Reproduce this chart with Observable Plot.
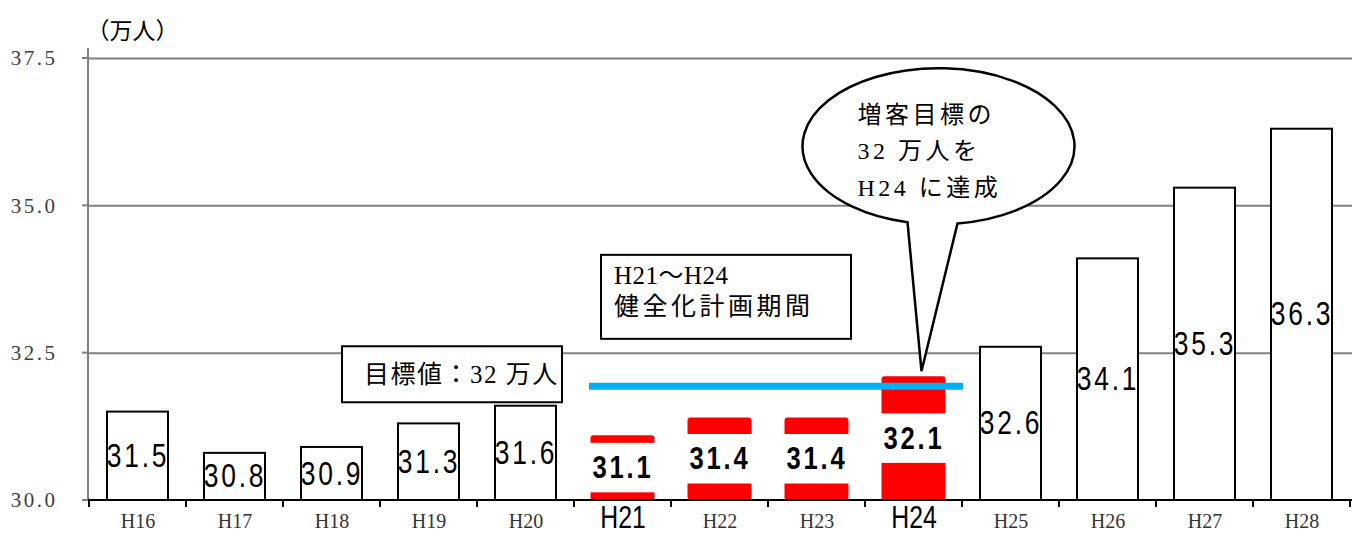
<!DOCTYPE html>
<html><head><meta charset="utf-8">
<script src="https://cdn.jsdelivr.net/npm/d3@7"></script>
<script src="https://cdn.jsdelivr.net/npm/@observablehq/plot@0.6"></script>
<style>
body{margin:0;background:#fff}
svg{display:block}
g[font-size="33"] text, g[font-size="32"] text{letter-spacing:3.5px}
g[font-size="21"] text{letter-spacing:2.5px}
</style>
</head><body><div id="chart"></div>
<script>
// ---- data ----
const years = ["H16","H17","H18","H19","H20","H21","H22","H23","H24","H25","H26","H27","H28"];
const values = [31.5,30.8,30.9,31.3,31.6,31.1,31.4,31.4,32.1,32.6,34.1,35.3,36.3];
const highlighted = ["H21","H22","H23","H24"];
const emphasizedTicks = ["H21","H24"];
const yTicks = [30,32.5,35,37.5];
const targetLevel = 31.93;       // blue target line as drawn
const unitLabel = "（万人）";
const targetLabel = "目標値：32 万人";
const periodLabel = ["H21～H24","健全化計画期間"];
const bubbleLabel = ["増客目標の","32 万人を","H24 に達成"];

const rows = years.map((year, i) => ({year, value: values[i], hi: highlighted.includes(year)}));
const base = yTicks[0];
const mid = d => (base + d.value) / 2;

const sans = "'Liberation Sans',Arial,sans-serif";
const serif = "'Liberation Serif','DejaVu Serif',serif";
const jp = "'Liberation Serif','Noto Sans CJK JP',sans-serif";

function chrome(index, scales, values, dimensions) {
  const {x, y} = scales;
  const bw = x.bandwidth(), step = x.step();
  const {width, marginLeft, marginRight} = dimensions;
  const g = d3.create("svg:g");
  for (const t of yTicks) {
    g.append("line").attr("x1", marginLeft - 6).attr("x2", marginLeft)
      .attr("y1", y(t)).attr("y2", y(t)).attr("stroke", "#808080").attr("stroke-width", 2);
  }
  g.append("line").attr("x1", marginLeft).attr("x2", marginLeft)
    .attr("y1", y(yTicks[yTicks.length-1]) - 10).attr("y2", y(base))
    .attr("stroke", "#808080").attr("stroke-width", 2);
  g.append("line").attr("x1", marginLeft).attr("x2", width - marginRight)
    .attr("y1", y(base)).attr("y2", y(base)).attr("stroke", "#000").attr("stroke-width", 2);
  const off = (step - bw) / 2;
  const bounds = years.map(d => x(d) - off).concat([x(years[years.length-1]) + bw + off]);
  for (const b of bounds) {
    g.append("line").attr("x1", b).attr("x2", b).attr("y1", y(base)).attr("y2", y(base) + 7)
      .attr("stroke", "#000").attr("stroke-width", 2);
  }
  return g.node();
}

function targetLine(index, scales) {
  const {x, y} = scales;
  const bw = x.bandwidth();
  const g = d3.create("svg:g");
  g.append("line")
    .attr("x1", x(highlighted[0]) - 3).attr("x2", x(highlighted[highlighted.length-1]) + bw + 19)
    .attr("y1", y(targetLevel)).attr("y2", y(targetLevel))
    .attr("stroke", "#00B0F0").attr("stroke-width", 7);
  return g.node();
}

function annotations(index, scales) {
  const {x, y} = scales;
  const bw = x.bandwidth();
  const g = d3.create("svg:g").attr("text-anchor", "start");
  const b1x = x("H19") - 56, b1y = y(targetLevel) - 40;
  g.append("rect").attr("x", b1x).attr("y", b1y).attr("width", 220).attr("height", 56)
    .attr("fill", "#fff").attr("stroke", "#000").attr("stroke-width", 2);
  g.append("text").attr("x", b1x + 22).attr("y", b1y + 28).attr("dy", "0.35em")
    .attr("font-family", jp).attr("font-size", 25).attr("letter-spacing", 1.5)
    .attr("fill", "#000").text(targetLabel);
  const b2x = x("H21") + 9, b2y = y(34.16);
  g.append("rect").attr("x", b2x).attr("y", b2y).attr("width", 250).attr("height", 84)
    .attr("fill", "#fff").attr("stroke", "#000").attr("stroke-width", 2);
  periodLabel.forEach((t, i) => {
    g.append("text").attr("x", b2x + 13).attr("y", b2y + 20 + i * 31).attr("dy", "0.35em")
      .attr("font-family", jp).attr("font-size", 25).attr("letter-spacing", i ? 3.5 : 0.5)
      .attr("fill", "#000").text(t);
  });
  const h24 = rows.find(d => d.year === "H24");
  const tx = x("H24") + bw / 2 + 8, ty = y(h24.value) - 5;
  const cx = tx + 17, cy = ty - 225, rx = 136, ry = 78;
  const ex = dx => cy + ry * Math.sqrt(1 - (dx / rx) ** 2);
  const lx = cx - 31, rxp = cx + 19;
  const path = `M${lx},${ex(-31)} A${rx},${ry} 0 1 1 ${rxp},${ex(19)} L${tx},${ty} Z`;
  g.append("path").attr("d", path).attr("fill", "#fff").attr("stroke", "#000")
    .attr("stroke-width", 2.5).attr("stroke-linejoin", "miter");
  bubbleLabel.forEach((t, i) => {
    g.append("text").attr("x", cx - 81).attr("y", cy - 32 + i * 36.5).attr("dy", "0.35em")
      .attr("font-family", jp).attr("font-size", 24).attr("letter-spacing", 3.5)
      .attr("fill", "#000").text(t);
  });
  return g.node();
}

const chart = Plot.plot({
  width: 1359,
  height: 543,
  marginLeft: 88,
  marginRight: 7,
  marginTop: 58,
  marginBottom: 43,
  style: {fontFamily: serif, fontSize: "20px", color: "#404040", background: "#fff", overflow: "visible"},
  x: {domain: years, axis: null, paddingInner: 0.37, paddingOuter: 0.185},
  y: {domain: [base, yTicks[yTicks.length-1]], axis: null},
  marks: [
    Plot.ruleY(yTicks.slice(1), {stroke: "#808080", strokeWidth: 2, strokeOpacity: 1}),
    Plot.barY(rows.filter(d => !d.hi), {x: "year", y1: base, y2: "value", fill: "#fff", stroke: "#000", strokeWidth: 2}),
    Plot.barY(rows.filter(d => d.hi), {x: "year", y1: base, y2: "value", fill: "#FF0000", rx: 3, insetLeft: -1.5, insetRight: -1.5}),
    Plot.barY(rows.filter(d => d.hi), {x: "year", y1: d => mid(d) - 0.42, y2: d => mid(d) + 0.42, fill: "#fff", insetLeft: -3, insetRight: -3}),
    chrome,
    targetLine,
    Plot.text(yTicks, {y: d => d, frameAnchor: "left", dx: -31, textAnchor: "end",
      text: d => d.toFixed(1), fill: "#404040", fontFamily: serif, fontSize: 21}),
    Plot.text(rows.filter(d => !d.hi), {x: "year", y: mid, text: d => d.value.toFixed(1), fill: "#000",
      fontFamily: sans, fontSize: 33}),
    Plot.text(rows.filter(d => d.hi), {x: "year", y: mid, text: d => d.value.toFixed(1), fill: "#000",
      fontFamily: sans, fontSize: 32, fontWeight: "bold"}),
    annotations,
    Plot.text(years.filter(d => !emphasizedTicks.includes(d)), {x: d => d, frameAnchor: "bottom", dy: 27,
      text: d => d, fill: "#333", fontFamily: serif, fontSize: 20}),
    Plot.text(emphasizedTicks, {x: d => d, frameAnchor: "bottom", dy: 27,
      text: d => d, fill: "#000", fontFamily: sans, fontSize: 31}),
    Plot.text([unitLabel], {frameAnchor: "top-left", dy: -36, dx: -2, textAnchor: "start",
      text: d => d, fill: "#000", fontFamily: "'Noto Sans CJK JP',sans-serif", fontSize: 23})
  ]
});
// narrow the condensed-looking labels horizontally (keeps each label's anchor point)
d3.select(chart).selectAll('g[font-size="33"] text, g[font-size="32"] text, g[font-size="31"] text')
  .attr("transform", function() { return (this.getAttribute("transform") || "") + " scale(0.8,1)"; });
document.getElementById("chart").appendChild(chart);
</script>
</body></html>
